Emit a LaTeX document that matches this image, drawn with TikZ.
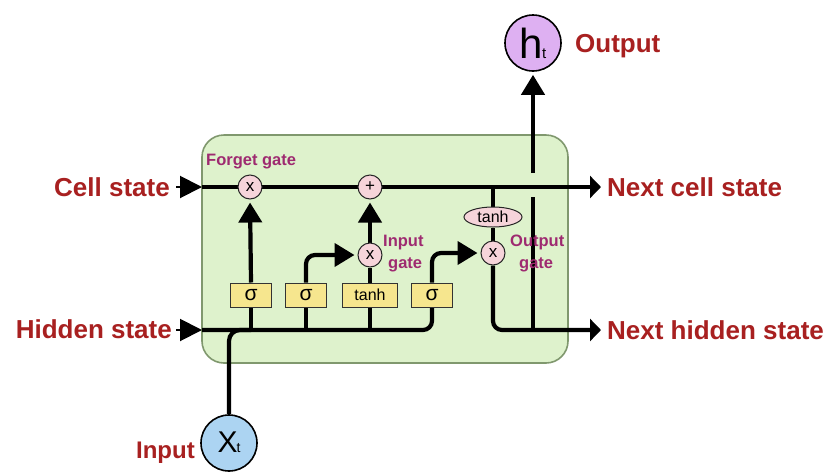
\documentclass[tikz,border=0pt]{standalone}
\usepackage{fontspec}
\setmainfont{Liberation Sans}
\usetikzlibrary{arrows.meta,shapes.geometric}
\pgfdeclarelayer{back}
\pgfdeclarelayer{bg}
\pgfsetlayers{back,bg,main}
\definecolor{lblred}{RGB}{168,32,32}
\definecolor{gatepurple}{RGB}{158,42,112}
\definecolor{cellgreen}{RGB}{222,242,204}
\definecolor{cellborder}{RGB}{128,152,110}
\definecolor{sigyellow}{RGB}{246,230,142}
\definecolor{oppink}{RGB}{246,212,218}
\definecolor{htpurple}{RGB}{222,176,242}
\definecolor{xtblue}{RGB}{172,212,242}
\begin{document}
\begin{tikzpicture}[x=1pt,y=-1pt,
  wire/.style={line width=4.2pt, rounded corners=9pt},
  arr/.style={wire,-{Triangle[length=20pt,width=23pt]}, shorten >=3pt},
  inarr/.style={line width=2pt,-{Triangle[length=22pt,width=22pt]}},
  outarr/.style={wire,-{Triangle[length=11pt,width=22pt]}},
  opnode/.style={circle, draw=black!85, line width=1pt, fill=oppink, minimum size=24pt, inner sep=0pt, font=\fontsize{17}{17}\selectfont},
  sigbox/.style={rectangle, draw=black!80, line width=1pt, fill=sigyellow, minimum width=41pt, minimum height=24pt, inner sep=0pt, font=\fontsize{21}{21}\selectfont},
  biglabel/.style={text=lblred, inner sep=0pt, font=\bfseries\fontsize{26}{26}\selectfont},
  gatelabel/.style={text=gatepurple, inner sep=0pt, font=\bfseries\fontsize{16.5}{17}\selectfont},
  vecnode/.style={circle, draw=black, line width=1.6pt, minimum size=56pt, inner sep=0pt}
]
\useasboundingbox (0,0) rectangle (836,472);

\begin{pgfonlayer}{back}
\fill[white] (0,0) rectangle (836,472);
\node[rectangle, rounded corners=22pt, draw=cellborder, line width=1.6pt, fill=cellgreen,
      minimum width=366pt, minimum height=228pt] (cell) at (385,249) {};
\end{pgfonlayer}

% operation nodes
\node[opnode] (fg) at (250,187) {x};
\node[opnode] (pl) at (370,187) {+};
\node[opnode] (ig) at (370,255) {x};
\node[opnode] (og) at (493,253) {x};
\node[ellipse, draw=black!85, line width=1pt, fill=oppink, minimum width=58pt, minimum height=20pt, inner sep=0pt,
      font=\fontsize{16}{16}\selectfont] (tc) at (493,217) {tanh};

\node[sigbox] (s1) at (251,295) {σ};
\node[sigbox] (s2) at (306,295) {σ};
\node[sigbox, minimum width=55pt, font=\fontsize{16}{16}\selectfont] (th) at (370,295) {tanh};
\node[sigbox] (s4) at (432,295) {σ};

\node[vecnode, fill=htpurple] (ht) at (533,43) {\fontsize{42}{42}\selectfont h\kern-1pt\fontsize{15}{15}\selectfont t};
\node[vecnode, fill=xtblue] (xt) at (229,443) {\raisebox{2pt}{\fontsize{30}{30}\selectfont X\kern-1pt\fontsize{14}{14}\selectfont t}};

% labels
\node[biglabel, anchor=base east] (cs) at (170,196) {Cell state};
\node[biglabel, anchor=base east] (hs) at (172,338) {Hidden state};
\node[biglabel, anchor=base west] (ncs) at (607,196) {Next cell state};
\node[biglabel, anchor=base west] (nhs) at (607,339) {Next hidden state};
\node[biglabel, anchor=base west] (outl) at (575,52) {Output};
\node[biglabel, anchor=base east, font=\bfseries\fontsize{24}{24}\selectfont] (inl) at (195,458) {Input};

\node[gatelabel, anchor=base west] (fgl) at (206,165) {Forget gate};
\node[gatelabel, anchor=base west] (igl1) at (383,246) {Input};
\node[gatelabel, anchor=base west] (igl2) at (388,268) {gate};
\node[gatelabel, anchor=base west] (ogl1) at (510,246) {Output};
\node[gatelabel, anchor=base west] (ogl2) at (519,268) {gate};

% coordinates
\coordinate (cin) at (202,187);
\coordinate (hin) at (202,330);
\coordinate (cout) at (601,187);
\coordinate (hout) at (601,330);

\begin{pgfonlayer}{bg}
% incoming triangles
\draw[inarr] ([xshift=6pt]cs.east |- cin) -- (cin);
\draw[inarr] ([xshift=4pt]hs.east |- hin) -- (hin);
% cell state line
\draw[outarr] (cin) -- (cout);
% hidden state line into last sigma
\draw[wire] (hin) -| (s4.south);
% input joins hidden line
\draw[wire, rounded corners=11pt] (xt.north) |- (s1.south |- hin);
% forget gate
\draw[wire] (s1.south |- hin) -- (s1.south);
\draw[arr] (s1.north) -- (fg.south);
% input gate
\draw[wire] (s2.south |- hin) -- (s2.south);
\draw[arr] (s2.north) |- (ig.west);
\draw[wire] (th.south |- hin) -- (th.south);
\draw[wire] (th.north) -- (ig.south);
\draw[arr] (ig.north) -- (pl.south);
% output gate
\draw[arr] (s4.north) |- (og.west);
\draw[wire] (tc.north |- cin) -- (tc.north);
\draw[wire] (tc.south) -- (og.north);
\draw[outarr] (og.south) |- (hout);
% output h_t with bridge over cell line
\draw[wire] (ht.south |- hout) -- ([yshift=-10pt]ht.south |- cin);
\draw[arr] ([yshift=14pt]ht.south |- cin) -- (ht.south);
\end{pgfonlayer}
\end{tikzpicture}
\end{document}
